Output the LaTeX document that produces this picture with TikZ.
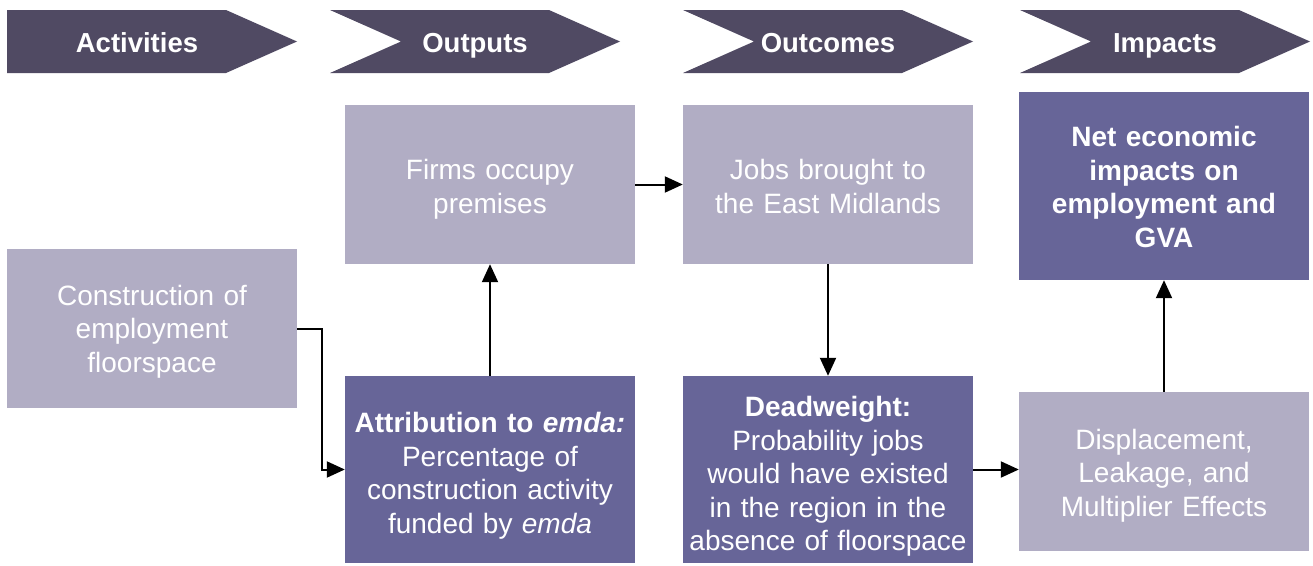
\documentclass[tikz,border=0pt]{standalone}
\usepackage{fontspec}
\setmainfont{Liberation Sans}
\usepackage{tikz}
\usetikzlibrary{calc, arrows.meta, positioning}

\definecolor{chevcol}{HTML}{504A63}
\definecolor{lightcol}{HTML}{B1ADC4}
\definecolor{darkcol}{HTML}{676598}

\tikzset{
	lightbox/.style={fill=lightcol, text=white, inner sep=0pt, minimum width=290pt, minimum height=159pt, text width=284pt, align=center, font=\fontsize{28}{33.5}\selectfont},
	darkbox/.style={lightbox, fill=darkcol, minimum height=187pt},
	firststrut/.style={execute at begin node={\rule{0pt}{#1}}},
	conn/.style={line width=2pt, -{Triangle[length=18pt,width=16pt]}},
}

\begin{document}
\begin{tikzpicture}[x=1pt, y=-1pt]
			\def\chevW{290};
			\def\chevD{71};
			\def\chevT{10};
			\def\chevB{73};

			\useasboundingbox (0,0) rectangle (1313,565);

			% header chevrons
			\begin{scope}
				\foreach \xa/\nt/\off/\lab [count=\i] in {7/0/130/Activities, 330/71/145/Outputs, 683/71/145/Outcomes, 1020/71/145/Impacts}
				{
					\fill[chevcol] (\xa,\chevT) -- (\xa+\chevW-\chevD,\chevT) -- (\xa+\chevW,{(\chevT+\chevB)/2}) -- (\xa+\chevW-\chevD,\chevB) -- (\xa,\chevB) -- (\xa+\nt,{(\chevT+\chevB)/2}) -- cycle;
					\node[anchor=base, text=white, font=\fontsize{27.5}{33}\selectfont\bfseries] (h\i) at (\xa+\off,52) {\lab};
				}
			\end{scope}

			% boxes
			\begin{scope}
				\node[lightbox, firststrut=26.5pt] (constr) at (152,328.5) {Construction of\\employment\\floorspace};
				\node[lightbox, firststrut=30pt] (firms) at (490,184.5) {Firms occupy\\premises};
				\node[darkbox, firststrut=32.5pt] (attrib) at (490,469.5) {\textbf{Attribution to \textit{emda:}}\\Percentage of\\construction activity\\funded by \textit{emda}};
				\node[lightbox, firststrut=24.5pt] (jobs) at (828,184.5) {Jobs brought to\\the East Midlands};
				\node[darkbox, firststrut=34.5pt] (dead) at (828,469.5) {\textbf{Deadweight:}\\Probability jobs\\would have existed\\in the region in the\\absence of floorspace};
				\node[darkbox, minimum height=188pt, firststrut=22.5pt] (net) at (1164,186) {\textbf{Net economic}\\\textbf{impacts on}\\\textbf{employment and}\\\textbf{GVA}};
				\node[lightbox, firststrut=28.5pt] (displ) at (1164,471.5) {Displacement,\\Leakage, and\\Multiplier Effects};
			\end{scope}

			% connectors
			\begin{scope}
				\draw[conn] (constr.east) -- ++(25,0) |- (attrib.west);
				\draw[conn] (attrib.north) -- (firms.south);
				\draw[conn] (firms.east) -- (jobs.west);
				\draw[conn] (jobs.south) -- (dead.north);
				\draw[conn] (dead.east) -- (dead.east -| displ.west);
				\draw[conn] (displ.north) -- (net.south);
			\end{scope}
		\end{tikzpicture}
\end{document}
